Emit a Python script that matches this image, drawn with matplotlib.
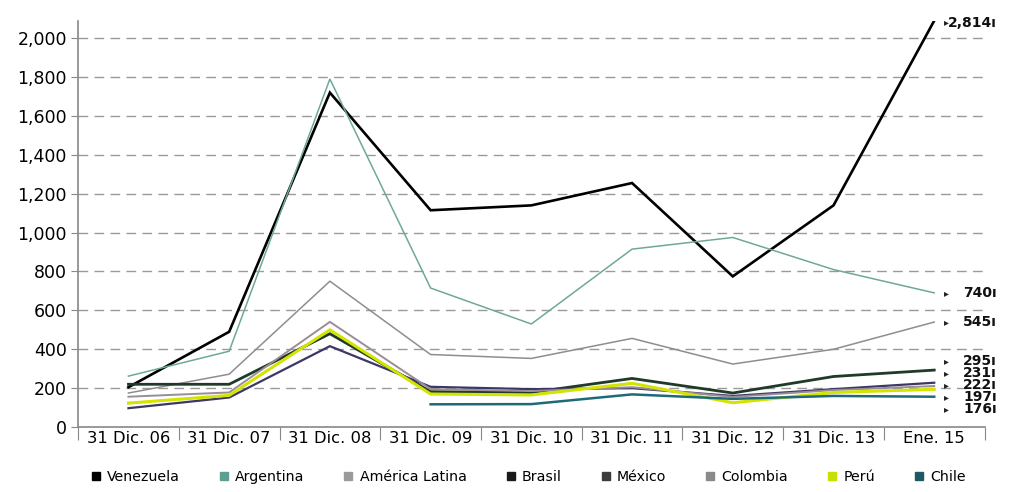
import numpy as np
import matplotlib
matplotlib.use("Agg")
import matplotlib.pyplot as plt
from matplotlib.ticker import FuncFormatter
from matplotlib.lines import Line2D

# riesgo país (EMBI), puntos básicos
fechas = ["31 Dic. 06", "31 Dic. 07", "31 Dic. 08", "31 Dic. 09", "31 Dic. 10",
          "31 Dic. 11", "31 Dic. 12", "31 Dic. 13", "Ene. 15"]
paises = ["Venezuela", "Argentina", "América Latina", "Brasil", "México",
          "Colombia", "Perú", "Chile"]

venezuela = [205, 490, 1720, 1115, 1140, 1255, 775, 1140, 2814]
argentina = [262, 390, 1790, 715, 530, 915, 975, 810, 690]
america_latina = [175, 272, 750, 373, 353, 456, 324, 400, 540]
brasil = [220, 220, 480, 182, 178, 250, 175, 260, 293]
mexico = [97, 152, 416, 207, 195, 200, 160, 195, 228]
colombia = [156, 178, 541, 195, 185, 205, 155, 190, 211]
peru = [123, 163, 500, 170, 165, 225, 125, 178, 194]
chile = [np.nan, np.nan, np.nan, 117, 118, 168, 145, 160, 156]

etiquetas = ["2,814", "740", "545", "295", "231", "222", "197", "176"]

series = [venezuela, argentina, america_latina, brasil, mexico, colombia, peru, chile]
colores = ["#000000", "#6fa89b", "#8e8e8e", "#1f3a28", "#3b3866", "#9a8d98", "#d2e400", "#1f6a78"]
grosor = [1.9, 1.1, 1.1, 2.0, 1.6, 1.4, 2.2, 1.8]
colores_ley = ["#000000", "#5e9e90", "#9a9a9a", "#1a1a1a", "#3c3c3c", "#8a8a8a", "#c8e000", "#1d5a66"]

YTOP = 2090

fig = plt.figure(figsize=(10.14, 4.92), dpi=100)
ax = fig.add_axes([0.077, 0.132, 0.894, 0.826])

x = np.arange(len(fechas))
for vals, c, lw in zip(series, colores, grosor):
    v = np.minimum(np.array(vals, dtype=float), YTOP)
    ax.plot(x, v, color=c, lw=lw, solid_joinstyle="miter", zorder=3)

ax.set_xlim(-0.5, len(fechas) - 0.5)
ax.set_ylim(0, YTOP)

# ejes
ax.set_yticks(np.arange(0, 2001, 200))
ax.yaxis.set_major_formatter(FuncFormatter(lambda v, p: f"{int(v):,}"))
ax.tick_params(axis="y", length=5, color="#888888", labelsize=12.5, pad=3)
for yv in np.arange(200, 2001, 200):
    ax.axhline(yv, color="#9a9a9a", lw=1.0, ls=(0, (7, 4.5)), zorder=1)

ax.set_xticks(np.arange(-0.5, len(fechas)), labels=[""] * (len(fechas) + 1))
ax.set_xticks(x, labels=fechas, minor=True)
ax.tick_params(axis="x", which="major", length=9, color="#888888", direction="out")
ax.tick_params(axis="x", which="minor", length=0, labelsize=11.8, pad=3)

for s in ["top", "right"]:
    ax.spines[s].set_visible(False)
for s in ["left", "bottom"]:
    ax.spines[s].set_color("#888888")
    ax.spines[s].set_linewidth(1.2)

# etiquetas al final de cada serie, separadas para que no se encimen
finales = [min(s[-1], YTOP - 10) for s in series]
orden = list(np.argsort(finales)[::-1])
gap = 62
bloques = [[orden[0]]]
for i in orden[1:]:
    if finales[bloques[-1][-1]] - finales[i] < 80:
        bloques[-1].append(i)
    else:
        bloques.append([i])
pos = {}
for b in bloques:
    m = np.mean([finales[i] for i in b])
    n = len(b)
    for k, i in enumerate(b):
        pos[i] = m + ((n - 1) / 2 - k) * gap
for i in range(len(series)):
    yl = pos[i]
    ax.text(len(fechas) - 1 + 0.1, yl, "▸", fontsize=7, va="center", ha="left",
            color="#222222", clip_on=False)
    ax.text(len(fechas) - 1 + 0.62, yl, etiquetas[i] + "ı", fontsize=10, fontweight="bold",
            va="center", ha="right", color="#111111", clip_on=False)

handles = [Line2D([], [], ls="none", marker="s", ms=6, mfc=c, mec=c) for c in colores_ley]
fig.legend(handles, paises, loc="center", bbox_to_anchor=(0.52, 0.03), ncol=8,
           frameon=False, fontsize=10.2, handletextpad=0.3, columnspacing=2.6,
           handlelength=1.0)

fig.savefig("out.png", dpi=100, facecolor="white")
